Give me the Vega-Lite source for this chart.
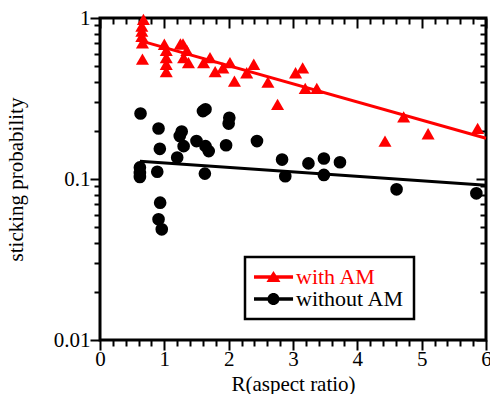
{
  "$schema": "https://vega.github.io/schema/vega-lite/v6.json",
  "width": 386,
  "height": 322,
  "autosize": {"type": "none"},
  "padding": {"left": 100, "top": 18, "right": 4, "bottom": 54},
  "background": "white",
  "config": {
    "font": "Liberation Serif",
    "view": {"stroke": "black", "strokeWidth": 3},
    "axis": {
      "domain": false,
      "grid": false,
      "ticks": true,
      "labelFont": "Liberation Serif",
      "labelFontSize": 21,
      "labelColor": "black",
      "titleFont": "Liberation Serif",
      "titleFontSize": 21,
      "titleFontWeight": "normal",
      "titleColor": "black",
      "tickColor": "black",
      "tickOpacity": 1,
      "tickWidth": 2,
      "labelOverlap": false,
      "labelFlush": false
    },
    "legend": {"labelFont": "Liberation Serif"}
  },
  "datasets": {
    "pts": [
      {"R": 0.675, "p": 0.98, "series": "with AM"},
      {"R": 0.65, "p": 0.89, "series": "with AM"},
      {"R": 0.65, "p": 0.83, "series": "with AM"},
      {"R": 0.65, "p": 0.77, "series": "with AM"},
      {"R": 0.66, "p": 0.70, "series": "with AM"},
      {"R": 0.66, "p": 0.555, "series": "with AM"},
      {"R": 1.0, "p": 0.687, "series": "with AM"},
      {"R": 1.03, "p": 0.63, "series": "with AM"},
      {"R": 1.03, "p": 0.567, "series": "with AM"},
      {"R": 1.03, "p": 0.516, "series": "with AM"},
      {"R": 1.03, "p": 0.464, "series": "with AM"},
      {"R": 1.25, "p": 0.69, "series": "with AM"},
      {"R": 1.29, "p": 0.69, "series": "with AM"},
      {"R": 1.35, "p": 0.63, "series": "with AM"},
      {"R": 1.30, "p": 0.567, "series": "with AM"},
      {"R": 1.375, "p": 0.528, "series": "with AM"},
      {"R": 1.61, "p": 0.528, "series": "with AM"},
      {"R": 1.71, "p": 0.567, "series": "with AM"},
      {"R": 1.79, "p": 0.464, "series": "with AM"},
      {"R": 1.91, "p": 0.49, "series": "with AM"},
      {"R": 2.02, "p": 0.528, "series": "with AM"},
      {"R": 2.09, "p": 0.406, "series": "with AM"},
      {"R": 2.28, "p": 0.457, "series": "with AM"},
      {"R": 2.39, "p": 0.516, "series": "with AM"},
      {"R": 2.61, "p": 0.40, "series": "with AM"},
      {"R": 2.76, "p": 0.291, "series": "with AM"},
      {"R": 3.04, "p": 0.457, "series": "with AM"},
      {"R": 3.15, "p": 0.49, "series": "with AM"},
      {"R": 3.19, "p": 0.366, "series": "with AM"},
      {"R": 3.37, "p": 0.366, "series": "with AM"},
      {"R": 4.43, "p": 0.172, "series": "with AM"},
      {"R": 4.72, "p": 0.243, "series": "with AM"},
      {"R": 5.10, "p": 0.191, "series": "with AM"},
      {"R": 5.87, "p": 0.206, "series": "with AM"},
      {"R": 0.63, "p": 0.255, "series": "without AM"},
      {"R": 0.91, "p": 0.206, "series": "without AM"},
      {"R": 1.60, "p": 0.264, "series": "without AM"},
      {"R": 1.64, "p": 0.271, "series": "without AM"},
      {"R": 2.01, "p": 0.240, "series": "without AM"},
      {"R": 2.0, "p": 0.221, "series": "without AM"},
      {"R": 1.27, "p": 0.197, "series": "without AM"},
      {"R": 1.24, "p": 0.185, "series": "without AM"},
      {"R": 0.93, "p": 0.154, "series": "without AM"},
      {"R": 1.30, "p": 0.160, "series": "without AM"},
      {"R": 1.50, "p": 0.172, "series": "without AM"},
      {"R": 1.64, "p": 0.160, "series": "without AM"},
      {"R": 1.69, "p": 0.149, "series": "without AM"},
      {"R": 1.96, "p": 0.162, "series": "without AM"},
      {"R": 2.44, "p": 0.172, "series": "without AM"},
      {"R": 1.20, "p": 0.136, "series": "without AM"},
      {"R": 2.83, "p": 0.132, "series": "without AM"},
      {"R": 0.62, "p": 0.118, "series": "without AM"},
      {"R": 0.62, "p": 0.109, "series": "without AM"},
      {"R": 0.62, "p": 0.103, "series": "without AM"},
      {"R": 0.89, "p": 0.111, "series": "without AM"},
      {"R": 1.63, "p": 0.108, "series": "without AM"},
      {"R": 2.88, "p": 0.104, "series": "without AM"},
      {"R": 0.935, "p": 0.0713, "series": "without AM"},
      {"R": 0.91, "p": 0.0562, "series": "without AM"},
      {"R": 0.96, "p": 0.0487, "series": "without AM"},
      {"R": 3.24, "p": 0.125, "series": "without AM"},
      {"R": 3.48, "p": 0.134, "series": "without AM"},
      {"R": 3.73, "p": 0.127, "series": "without AM"},
      {"R": 3.48, "p": 0.106, "series": "without AM"},
      {"R": 4.61, "p": 0.0863, "series": "without AM"},
      {"R": 5.85, "p": 0.0815, "series": "without AM"}
    ],
    "fit": [
      {"R": 0.62, "p": 0.723, "series": "with AM"},
      {"R": 6.0, "p": 0.179, "series": "with AM"},
      {"R": 0.62, "p": 0.129, "series": "without AM"},
      {"R": 6.0, "p": 0.0916, "series": "without AM"}
    ]
  },
  "resolve": {"axis": {"x": "independent", "y": "independent"}},
  "layer": [
    {
      "data": {"name": "fit"},
      "transform": [{"filter": "datum.series === 'with AM'"}],
      "mark": {"type": "line", "color": "#ff0000", "strokeWidth": 3},
      "encoding": {
        "x": {"field": "R", "type": "quantitative", "scale": {"domain": [0, 6], "nice": false, "zero": false}, "axis": {
          "orient": "bottom", "title": null, "labels": false, "tickSize": 6,
          "values": [0.2,0.4,0.6,0.8,1.2,1.4,1.6,1.8,2.2,2.4,2.6,2.8,3.2,3.4,3.6,3.8,4.2,4.4,4.6,4.8,5.2,5.4,5.6,5.8]
        }},
        "y": {"field": "p", "type": "quantitative", "scale": {"type": "log", "domain": [0.01, 1], "nice": false}, "axis": {
          "orient": "left", "title": null, "labels": false, "tickSize": 6,
          "values": [0.02,0.03,0.04,0.05,0.06,0.07,0.08,0.09,0.2,0.3,0.4,0.5,0.6,0.7,0.8,0.9]
        }}
      }
    },
    {
      "data": {"name": "fit"},
      "transform": [{"filter": "datum.series === 'without AM'"}],
      "mark": {"type": "line", "color": "black", "strokeWidth": 3},
      "encoding": {
        "x": {"field": "R", "type": "quantitative", "axis": {
          "orient": "top", "title": null, "labels": false, "tickSize": 6, "offset": -6,
          "values": [0.2,0.4,0.6,0.8,1.2,1.4,1.6,1.8,2.2,2.4,2.6,2.8,3.2,3.4,3.6,3.8,4.2,4.4,4.6,4.8,5.2,5.4,5.6,5.8]
        }},
        "y": {"field": "p", "type": "quantitative", "axis": {
          "orient": "right", "title": null, "labels": false, "tickSize": 6, "offset": -6,
          "values": [0.02,0.03,0.04,0.05,0.06,0.07,0.08,0.09,0.2,0.3,0.4,0.5,0.6,0.7,0.8,0.9]
        }}
      }
    },
    {
      "data": {"name": "pts"},
      "transform": [{"filter": "datum.series === 'with AM'"}],
      "mark": {"type": "point", "shape": "triangle-up", "filled": true, "color": "#ff0000", "opacity": 1, "size": 170},
      "encoding": {
        "x": {"field": "R", "type": "quantitative", "axis": {
          "orient": "bottom",
          "title": "R(aspect ratio)",
          "values": [0, 1, 2, 3, 4, 5, 6],
          "format": "d",
          "tickSize": 10,
          "labelPadding": -2,
          "titlePadding": 4
        }},
        "y": {"field": "p", "type": "quantitative", "axis": {
          "orient": "left",
          "title": "sticking probability",
          "values": [0.01, 0.1, 1],
          "labelExpr": "datum.value == 1 ? '1' : datum.value == 0.1 ? '0.1' : '0.01'",
          "tickSize": 10,
          "labelPadding": 0,
          "titlePadding": 27
        }}
      }
    },
    {
      "data": {"name": "pts"},
      "transform": [{"filter": "datum.series === 'without AM'"}],
      "mark": {"type": "point", "shape": "circle", "filled": true, "color": "black", "opacity": 1, "size": 160},
      "encoding": {
        "x": {"field": "R", "type": "quantitative", "axis": {
          "orient": "top", "title": null, "labels": false, "tickSize": 10, "offset": -10,
          "values": [0, 1, 2, 3, 4, 5, 6]
        }},
        "y": {"field": "p", "type": "quantitative", "axis": {
          "orient": "right", "title": null, "labels": false, "tickSize": 10, "offset": -10,
          "values": [0.01, 0.1, 1]
        }}
      }
    },
    {
      "data": {"values": [{"series": "with AM"}, {"series": "without AM"}]},
      "mark": {"type": "point", "filled": true, "opacity": 0},
      "encoding": {
        "color": {"field": "series", "type": "nominal", "scale": {"domain": ["with AM", "without AM"], "range": ["#ff0000", "black"]}, "legend": {
          "orient": "none",
          "legendX": 145,
          "legendY": 239,
          "title": null,
          "symbolSize": 484,
          "symbolOpacity": 1,
          "symbolStrokeWidth": 0,
          "labelFont": "Liberation Serif",
          "labelFontSize": 22,
          "labelOffset": 20,
          "padding": 9,
          "rowPadding": -2,
          "strokeColor": "black",
          "fillColor": "white",
          "labelLimit": 300,
          "encode": {
            "legend": {"update": {"strokeWidth": {"value": 2.5}}},
            "labels": {"update": {"fill": {"signal": "datum.value === 'with AM' ? '#ff0000' : 'black'"}}}
          }
        }},
        "shape": {"field": "series", "type": "nominal", "scale": {"domain": ["with AM", "without AM"], "range": [
          "M-1,-0.15H2.55V0.15H-1Z M0.77,-0.55L1.41,0.45H0.13Z",
          "M-1,-0.15H2.55V0.15H-1Z M1.32,0A0.55,0.55 0 1,1 0.22,0A0.55,0.55 0 1,1 1.32,0Z"
        ]}}
      }
    }
  ]
}
